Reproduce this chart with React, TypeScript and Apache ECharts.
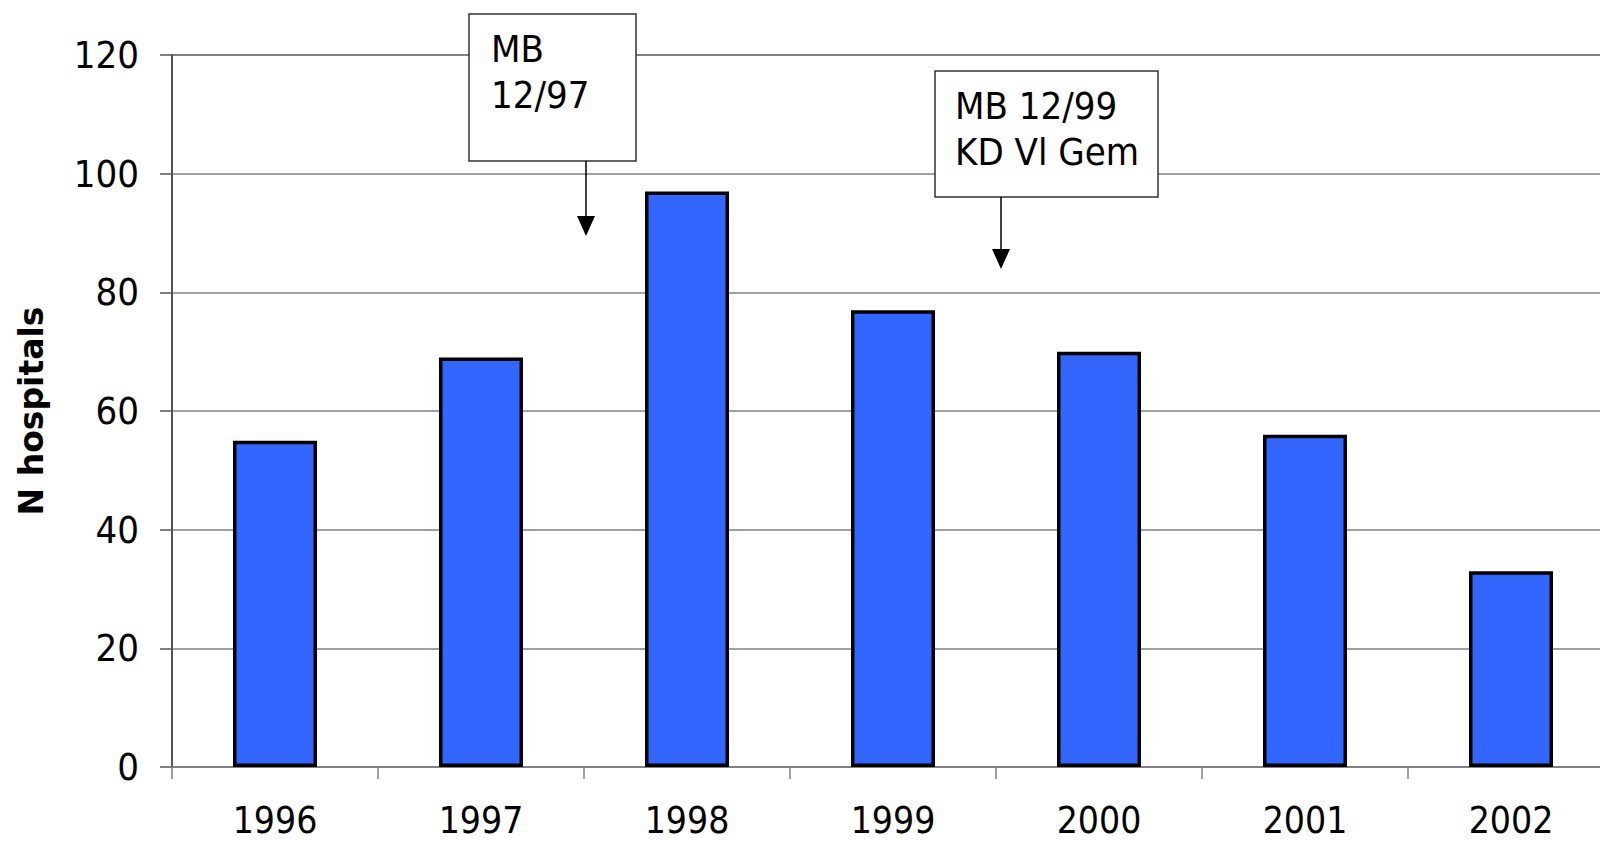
import React, { useEffect, useRef } from "react";
import * as echarts from "echarts";

const categories = ["1996", "1997", "1998", "1999", "2000", "2001", "2002"];
const hospitals = [55, 69, 97, 77, 70, 56, 33];
const yTicks = { min: 0, max: 120, interval: 20 };
const axisName = "N hospitals";
const notes = [
  { lines: ["MB", "12/97"] },
  { lines: ["MB 12/99", "KD Vl Gem"] },
];

const FONT = "'DejaVu Sans Condensed', 'DejaVu Sans', sans-serif";

export default function App() {
  const ref = useRef<HTMLDivElement>(null);
  useEffect(() => {
    if (!ref.current) return;
    const chart = echarts.init(ref.current, undefined, { renderer: "svg" });
    const boxText = (x: number, y: number, w: number, h: number, lines: string[], tx: number, ty: number) => ({
      type: "group",
      children: [
        {
          type: "rect",
          shape: { x, y, width: w, height: h },
          style: { fill: "#ffffff", stroke: "#333333", lineWidth: 1.5 },
          z: 100,
        },
        {
          type: "text",
          x: tx,
          y: ty,
          style: {
            text: lines.join("\n"),
            font: `38px ${FONT}`,
            fill: "#000000",
            lineHeight: 46,
            textVerticalAlign: "top",
          },
          z: 101,
        },
      ],
    });
    const arrow = (x: number, y1: number, y2: number) => ({
      type: "group",
      children: [
        {
          type: "line",
          shape: { x1: x, y1, x2: x, y2: y2 - 18 },
          style: { stroke: "#000", lineWidth: 1.5 },
          z: 100,
        },
        {
          type: "polygon",
          shape: { points: [[x - 9, y2 - 20], [x + 9, y2 - 20], [x, y2]] },
          style: { fill: "#000" },
          z: 100,
        },
      ],
    });
    chart.setOption({
      animation: false,
      backgroundColor: "#ffffff",
      grid: {
        left: 172,
        top: 55,
        bottom: 74,
        right: -14,
        containLabel: false,
        outerBoundsMode: "none",
        show: true,
        borderColor: "#808080",
        borderWidth: 2,
      },
      xAxis: {
        type: "category",
        data: categories,
        axisLine: { lineStyle: { color: "#808080", width: 2 } },
        axisTick: { show: true, length: 12, lineStyle: { color: "#808080", width: 1.5 } },
        axisLabel: { fontSize: 37, lineHeight: 30, fontFamily: FONT, color: "#000", margin: 38 },
      },
      yAxis: {
        type: "value",
        min: yTicks.min,
        max: yTicks.max,
        interval: yTicks.interval,
        name: axisName,
        nameLocation: "middle",
        nameGap: 124,
        nameTextStyle: {
          fontSize: 33,
          fontWeight: "bold",
          fontFamily: "'DejaVu Sans', sans-serif",
          color: "#000",
        },
        axisLine: { show: true, lineStyle: { color: "#555555", width: 2 } },
        axisTick: { show: true, length: 12, lineStyle: { color: "#555555", width: 1.5 } },
        axisLabel: { fontSize: 38, fontFamily: FONT, color: "#000", margin: 33 },
        splitLine: { show: true, lineStyle: { color: "#808080", width: 1.5 } },
      },
      series: [
        {
          type: "bar",
          data: hospitals,
          barWidth: 84,
          itemStyle: { color: "#3366FF", borderColor: "#000000", borderWidth: 3.5 },
        },
      ],
      graphic: [
        boxText(469, 14, 167, 147, notes[0].lines, 491, 26),
        arrow(586, 161, 236),
        boxText(935, 71, 223, 126, notes[1].lines, 955, 83),
        arrow(1001, 197, 269),
      ],
    });
    return () => chart.dispose();
  }, []);
  return (
    <div
      ref={ref}
      style={{ position: "absolute", left: 0, top: 0, width: 1600, height: 841 }}
    />
  );
}
